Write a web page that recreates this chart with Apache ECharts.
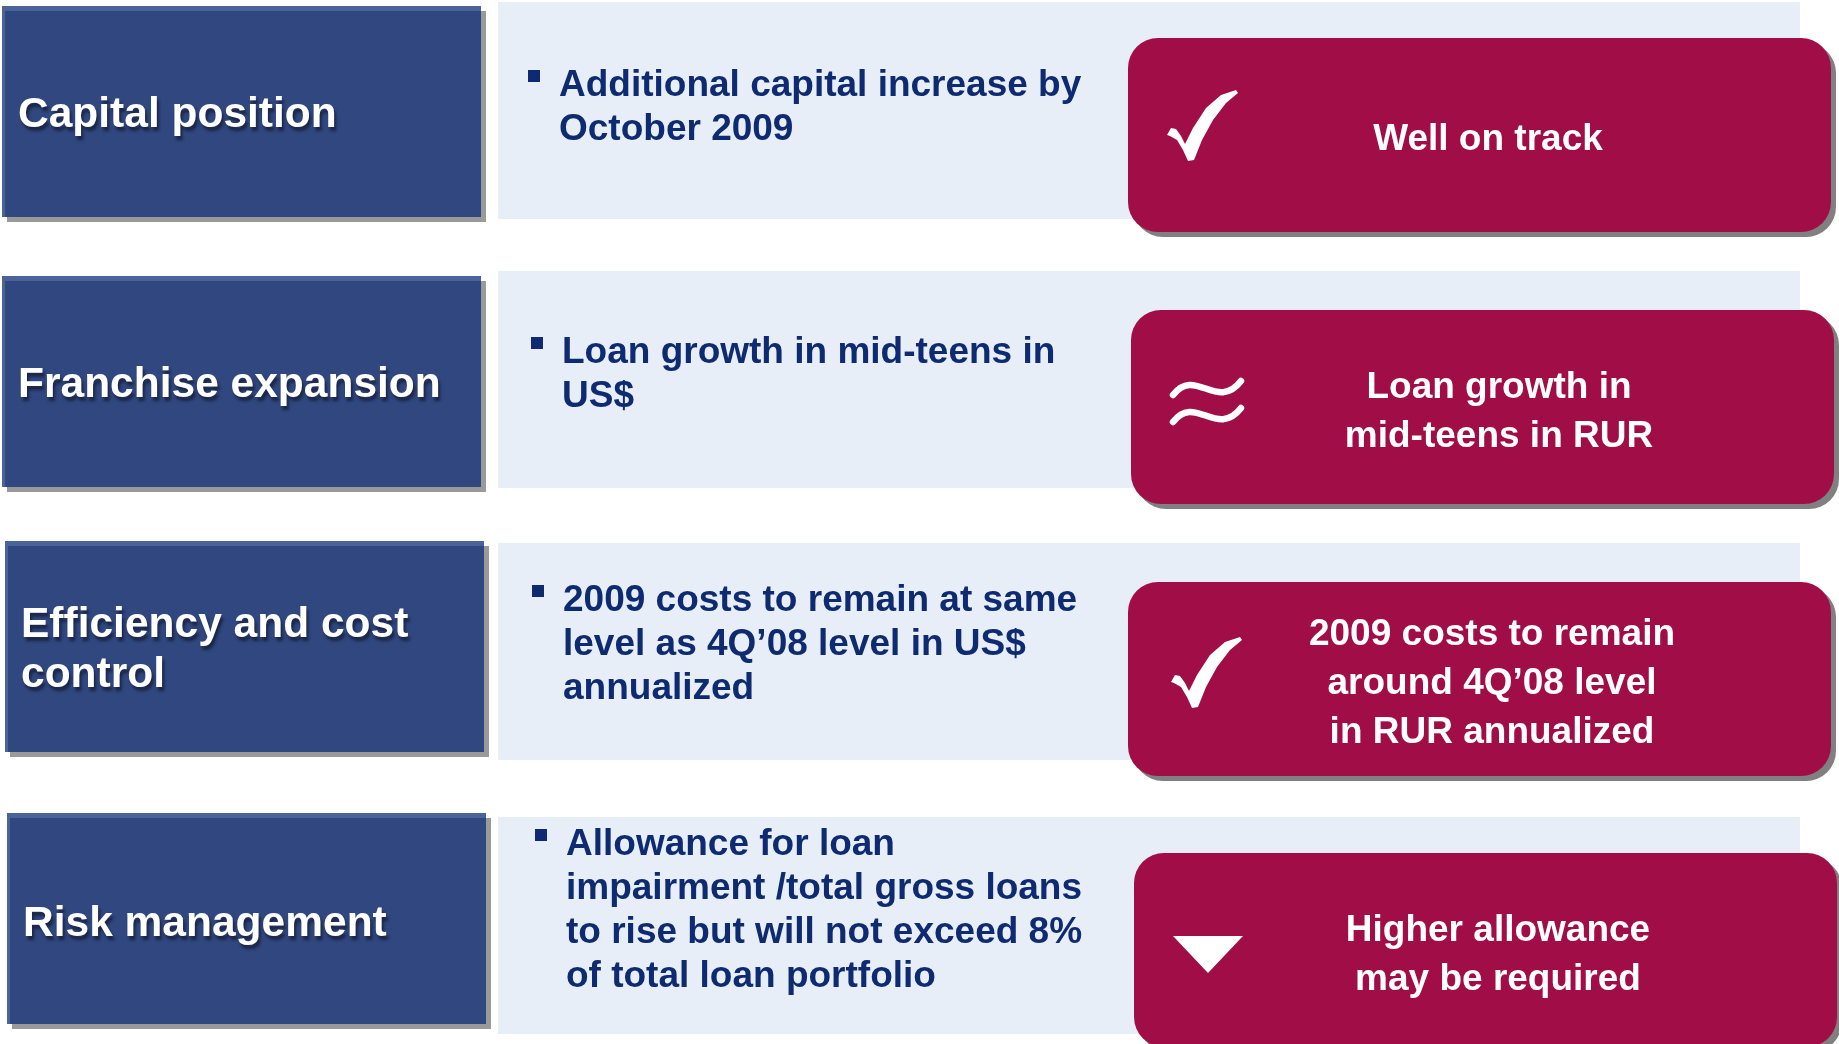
<!DOCTYPE html>
<html>
<head>
<meta charset="utf-8">
<script src="https://cdn.jsdelivr.net/npm/echarts@6/dist/echarts.min.js"></script>
<style>
html,body{margin:0;padding:0;background:#fff;}
#chart{width:1839px;height:1044px;}
</style>
</head>
<body>
<div id="chart"></div>
<script>
// ---- content ----
const categories = ['Capital position', 'Franchise expansion', 'Efficiency and cost\ncontrol', 'Risk management'];
const targets = [
  'Additional capital increase by\nOctober 2009',
  'Loan growth in mid-teens in\nUS$',
  '2009 costs to remain at same\nlevel as 4Q\u201908 level in US$\nannualized',
  'Allowance for loan\nimpairment /total gross loans\nto rise but will not exceed 8%\nof total loan portfolio'
];
const outcomes = ['Well on track', 'Loan growth in\nmid-teens in RUR', '2009 costs to remain\naround 4Q\u201908 level\nin RUR annualized', 'Higher allowance\nmay be required'];
const statusMarks = ['check', 'approx', 'check', 'down'];

// ---- layout (pixels) ----
const L = {
  darkX: [2, 2, 5, 7], darkY: [6, 276, 541, 813], darkW: 479, darkH: 211,
  labelDY: [4, 4, 4, 6],
  panelX: 498, panelY: [2, 271, 543, 817], panelW: 1302, panelH: 217,
  boxX: [1128, 1131, 1128, 1134], boxY: [38, 310, 582, 853], boxW: 703, boxH: 194,
  outDX: [360, 368, 364, 364],
  bulletTextX: [559, 562, 563, 566], bulletFirstY: [86, 353, 601, 845], bulletLH: 44,
  outLH: 49
};
const C = {
  dark: '#30477F', darkTop: '#4A6399', panel: '#E7EEF7', crimson: '#A10D47',
  navy: '#0E2A70', shadowDark: '#9A9A9A', shadowBox: '#808080'
};
const FONT = '"Liberation Sans", Arial, Helvetica, sans-serif';

const els = [];
categories.forEach(function (cat, r) {
  const dx = L.darkX[r], dy = L.darkY[r];
  // light panel
  els.push({ type: 'rect', shape: { x: L.panelX, y: L.panelY[r], width: L.panelW, height: L.panelH }, style: { fill: C.panel }, z: 1 });
  // dark box shadow + box + highlight
  els.push({ type: 'rect', shape: { x: dx + 5, y: dy + 5, width: L.darkW, height: L.darkH }, style: { fill: C.shadowDark }, z: 2 });
  els.push({ type: 'rect', shape: { x: dx, y: dy, width: L.darkW, height: L.darkH }, style: { fill: C.dark }, z: 3 });
  els.push({ type: 'rect', shape: { x: dx, y: dy, width: L.darkW, height: 5 }, style: { fill: C.darkTop }, z: 4 });
  els.push({ type: 'rect', shape: { x: dx, y: dy, width: 3, height: L.darkH }, style: { fill: C.darkTop }, z: 4 });
  // category label
  const catLines = cat.split('\n');
  const cy = dy + L.darkH / 2 + L.labelDY[r];
  catLines.forEach(function (ln, i) {
    els.push({ type: 'text', z: 5, style: {
      text: ln, x: dx + 16, y: cy + (i - (catLines.length - 1) / 2) * 50,
      fill: '#ffffff', font: 'bold 42.5px ' + FONT, align: 'left', verticalAlign: 'middle',
      textShadowColor: 'rgba(20,25,50,0.75)', textShadowOffsetX: 2, textShadowOffsetY: 4, textShadowBlur: 3
    } });
  });
  // bullet
  const tx = L.bulletTextX[r], ty = L.bulletFirstY[r];
  els.push({ type: 'rect', z: 5, shape: { x: tx - 31, y: ty - 16, width: 12, height: 12 }, style: { fill: C.navy } });
  targets[r].split('\n').forEach(function (ln, i) {
    els.push({ type: 'text', z: 5, style: {
      text: ln, x: tx, y: ty + i * L.bulletLH, fill: C.navy,
      font: 'bold 37px ' + FONT, align: 'left', verticalAlign: 'middle'
    } });
  });
  // crimson outcome box
  const bx = L.boxX[r], by = L.boxY[r];
  els.push({ type: 'rect', z: 6, shape: { x: bx + 5, y: by + 5, width: L.boxW, height: L.boxH, r: 30 }, style: { fill: C.shadowBox } });
  els.push({ type: 'rect', z: 7, shape: { x: bx, y: by, width: L.boxW, height: L.boxH, r: 30 }, style: { fill: C.crimson } });
  const outLines = outcomes[r].split('\n');
  const ocx = bx + L.outDX[r], ocy = by + 102;
  outLines.forEach(function (ln, i) {
    els.push({ type: 'text', z: 8, style: {
      text: ln, x: ocx, y: ocy + (i - (outLines.length - 1) / 2) * L.outLH, fill: '#ffffff',
      font: 'bold 37px ' + FONT, align: 'center', verticalAlign: 'middle'
    } });
  });
  // status icon
  const mk = statusMarks[r];
  if (mk === 'check') {
    const ox = bx + 38 + (r === 2 ? 4 : 0), oy = by + 52 + (r === 2 ? 3 : 0);
    const pts = [[1,45],[5,38],[10,39],[15,46],[19,54],[27,38],[40,18],[55,5],[70,0],[72,3],[60,13],[47,30],[36,50],[28,70],[22,71],[17,60],[11,50],[4,46]];
    els.push({ type: 'polygon', z: 9, shape: { points: pts.map(function (p) { return [ox + p[0], oy + p[1]]; }) }, style: { fill: '#ffffff' } });
  } else if (mk === 'approx') {
    const ox = bx + 40, oy = by + 65;
    [13, 40].forEach(function (dyc) {
      const yc = oy + dyc;
      els.push({ type: 'bezierCurve', z: 9, shape: {
        x1: ox + 2, y1: yc + 7, cpx1: ox + 24, cpy1: yc - 22, cpx2: ox + 46, cpy2: yc + 24, x2: ox + 70, y2: yc - 7
      }, style: { stroke: '#ffffff', lineWidth: 6.5, fill: null, lineCap: 'round' } });
    });
  } else if (mk === 'down') {
    const ox = bx + 39, oy = by + 83;
    els.push({ type: 'polygon', z: 9, shape: { points: [[ox, oy], [ox + 70, oy], [ox + 35, oy + 37]] }, style: { fill: '#ffffff' } });
  }
});

const chart = echarts.init(document.getElementById('chart'), null, { renderer: 'canvas' });
chart.setOption({
  backgroundColor: '#ffffff',
  animation: false,
  graphic: { elements: els }
});
</script>
</body>
</html>
